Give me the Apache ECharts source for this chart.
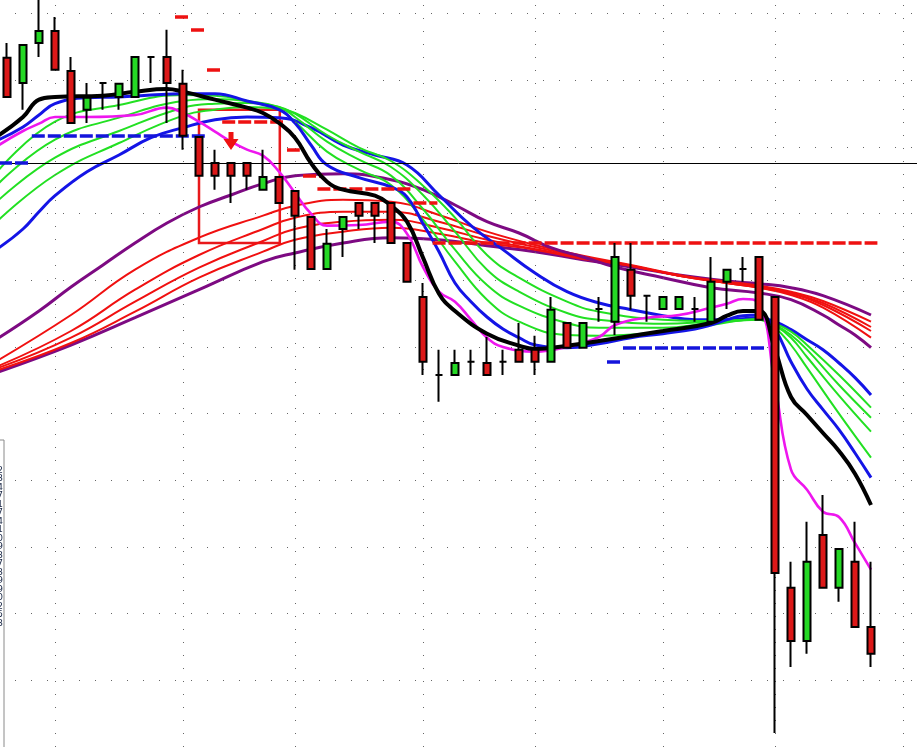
<!DOCTYPE html>
<html>
<head>
<meta charset="utf-8">
<script src="https://cdn.jsdelivr.net/npm/echarts@6/dist/echarts.min.js"></script>
<style>
  html, body { margin: 0; padding: 0; background: #fff; }
  #chart { width: 917px; height: 747px; }
</style>
</head>
<body>
<div id="chart"></div>
<script>
// candles, ECharts order: [open, close, low, high]
const candles = [
  [103.4, 97.5, 97.5, 105.6], [99.6, 105.3, 95.6, 105.3], [105.6, 107.4, 103.5, 112.8],
  [107.4, 101.6, 101.6, 109.5], [101.4, 93.6, 93.6, 103.5], [95.6, 97.4, 93.6, 99.6],
  [99.6, 99.6, 95.6, 99.6], [97.5, 99.5, 95.6, 99.5], [97.5, 103.5, 97.5, 103.5],
  [103.5, 103.5, 99.6, 103.5], [103.5, 99.6, 93.6, 107.6], [99.5, 91.7, 89.6, 101.6],
  [91.5, 85.7, 85.7, 91.5], [87.6, 85.7, 83.6, 89.6], [87.6, 85.7, 81.6, 87.6],
  [87.6, 85.7, 83.6, 87.6], [83.6, 85.5, 83.6, 89.6], [85.5, 81.6, 81.6, 85.5],
  [83.4, 79.7, 71.6, 83.4], [79.5, 71.7, 71.7, 79.5], [71.7, 75.5, 71.7, 77.7],
  [77.7, 79.5, 73.5, 79.5], [81.6, 79.7, 77.7, 81.6], [81.6, 79.7, 75.6, 81.6],
  [81.6, 75.6, 75.6, 81.6], [75.6, 69.8, 69.8, 75.6], [67.5, 57.8, 55.8, 69.6],
  [55.8, 55.8, 51.8, 59.6], [55.8, 57.6, 55.8, 59.6], [57.8, 57.8, 55.8, 59.6],
  [57.6, 55.8, 55.8, 61.5], [57.8, 57.8, 55.8, 59.6], [59.6, 57.8, 57.8, 63.6],
  [59.6, 57.8, 55.8, 61.7], [57.8, 65.6, 57.8, 67.5], [63.6, 59.9, 59.9, 63.6],
  [59.9, 63.6, 59.9, 63.6], [65.7, 65.7, 63.8, 67.5], [63.8, 73.5, 61.8, 75.6],
  [71.6, 67.7, 65.6, 75.6], [67.7, 67.7, 63.8, 67.7], [65.7, 67.5, 65.7, 67.5],
  [65.7, 67.5, 65.7, 67.5], [65.7, 65.7, 63.8, 67.5], [63.8, 69.8, 63.8, 73.5],
  [69.8, 71.6, 65.7, 71.6], [71.7, 71.7, 69.8, 73.5], [73.5, 64.1, 64.1, 73.5],
  [67.5, 26.1, 2.1, 67.5], [23.9, 15.9, 12.0, 27.8], [15.9, 27.8, 14.0, 33.8],
  [31.8, 23.9, 23.9, 37.8], [23.9, 29.7, 21.8, 29.7], [27.8, 18.0, 18.0, 33.8],
  [18.0, 14.0, 12.0, 27.8]
];
const slotCount = 58;
const priceTop = 112.05;

// moving averages: [bar index, price]
const blackMA = [[-0.5,91.8],[1,94.5],[2,97.1],[3,97.5],[6,97.7],[8,98.3],[10,98.7],[11,98.3],[13,97.1],[15,95.9],[16,95.1],[17,93.6],[18,91.4],[19,87.6],[20,84.8],[21,83.6],[23,82.7],[24,81.2],[25,78.8],[26,73.4],[27,68.0],[28,65.4],[30,62.0],[32,60.2],[33,59.7],[35,60.2],[37,60.9],[41,62.4],[44,63.6],[45,64.7],[46,65.4],[47,65.4],[48,59.6],[49,52.5],[50,49.8],[51,47.1],[52,44.4],[53,41.0],[54,36.3]];
const magentaMA = [[-0.5,90.3],[1,92.4],[2,93.5],[3,94.5],[5,94.5],[8,94.8],[10,95.9],[11,95.1],[12,93.8],[13,92.3],[14,90.8],[15,89.6],[16,88.7],[17,86.3],[18,83.1],[19,80.0],[20,78.2],[22,78.3],[24,78.8],[25,77.0],[26,72.0],[27,68.3],[28,66.8],[29,64.1],[30,61.4],[31,60.0],[33,59.3],[35,60.0],[37,61.5],[38,63.3],[40,64.4],[42,64.8],[44,65.9],[45,66.5],[46,67.2],[47,66.5],[48,54.3],[49,41.6],[50,38.6],[51,35.3],[52,34.5],[53,30.6],[54,26.6]];
const fastBlue = [[-0.5,91.1],[1,93.0],[2,94.8],[3,96.5],[5,97.4],[7,97.5],[9,97.8],[11,98.0],[13,98.0],[15,96.9],[17,95.6],[18,93.6],[19,90.3],[20,87.3],[22,85.4],[24,84.0],[25,82.5],[26,78.5],[27,74.3],[28,69.6],[29,66.8],[30,64.5],[31,62.7],[32,61.4],[33,60.3],[35,59.9],[37,60.5],[39,61.4],[41,62.0],[43,62.7],[44,63.3],[45,64.1],[46,64.7],[47,64.8],[48,62.6],[49,57.8],[50,53.7],[51,50.6],[52,47.6],[53,44.1],[54,40.4]];
const slowBlue = [[-0.5,74.9],[1,77.7],[2,80.3],[3,82.7],[5,86.3],[7,88.8],[9,91.4],[11,92.9],[13,94.1],[15,94.5],[17,94.4],[19,92.9],[21,90.3],[23,88.8],[25,87.3],[27,82.8],[29,78.2],[31,74.6],[33,71.1],[35,68.3],[37,66.6],[39,65.6],[41,64.7],[43,64.1],[45,64.1],[47,64.4],[48,63.8],[49,62.6],[50,61.1],[51,59.6],[52,57.6],[53,55.4],[54,52.8]];
const green1 = [[-0.5,86.6],[3,93.8],[7,96.3],[11,97.8],[13,97.7],[15,96.9],[17,95.6],[18,93.8],[20,89.3],[22,86.6],[24,84.3],[26,79.1],[28,72.8],[30,67.1],[32,63.8],[35,61.8],[37,61.7],[41,62.3],[44,63.3],[47,64.2],[48,62.9],[49,60.3],[50,56.9],[52,50.0],[54,43.4]];
const green2 = [[-0.5,84.6],[3,91.1],[7,94.4],[11,96.9],[13,97.2],[15,96.9],[17,96.0],[18,94.5],[20,90.8],[22,88.1],[24,85.7],[26,80.7],[28,74.6],[30,69.3],[32,66.2],[35,63.6],[37,62.9],[41,62.9],[44,63.6],[47,64.1],[48,63.2],[49,61.4],[50,58.5],[52,52.7],[54,47.3]];
const green3 = [[-0.5,82.1],[3,88.4],[7,92.4],[11,95.9],[13,96.5],[15,96.6],[17,96.0],[18,95.0],[20,91.8],[22,89.3],[24,87.0],[26,82.8],[28,77.3],[30,71.6],[32,68.3],[35,65.1],[37,64.1],[41,63.5],[44,63.8],[47,64.1],[48,63.3],[49,61.8],[50,59.6],[52,54.3],[54,49.4]];
const green4 = [[-0.5,79.1],[3,85.8],[7,90.6],[11,94.7],[13,95.6],[15,96.0],[17,95.7],[18,95.1],[20,92.6],[22,89.9],[24,87.9],[26,84.2],[28,79.4],[30,73.8],[32,70.4],[35,66.8],[37,65.3],[41,64.1],[44,63.9],[47,64.1],[48,63.5],[49,62.3],[50,60.3],[52,55.8],[54,50.9]];
const purpleFast = [[-0.5,61.4],[2,65.4],[4,69.0],[6,72.3],[8,75.6],[10,78.6],[12,81.0],[14,82.8],[16,84.5],[18,85.7],[21,86.0],[24,85.1],[26,83.6],[28,81.3],[30,78.8],[32,77.1],[34,74.9],[36,73.5],[38,72.0],[41,70.4],[44,68.9],[47,68.1],[49,67.1],[51,64.8],[52,63.3],[53,61.8],[54,59.9]];
const purpleSlow = [[-0.5,56.3],[4,60.3],[8,64.4],[12,68.6],[16,72.8],[18,74.1],[21,75.6],[24,76.4],[27,76.1],[30,75.2],[33,74.3],[36,73.1],[39,72.0],[42,70.8],[45,69.9],[47,69.5],[49,68.9],[51,67.7],[54,64.8]];
const red1 = [[-0.5,58.1],[4,64.8],[8,71.6],[12,76.4],[16,79.7],[18,81.2],[21,82.1],[24,81.8],[27,79.8],[30,77.3],[33,75.3],[36,73.7],[39,72.3],[42,70.8],[45,69.6],[47,68.9],[49,67.8],[51,65.9],[54,61.4]];
const red2 = [[-0.5,57.2],[4,62.4],[8,68.6],[12,73.8],[16,77.7],[18,79.4],[21,80.3],[24,80.3],[27,78.8],[30,76.7],[33,75.0],[36,73.5],[39,72.2],[42,70.7],[45,69.6],[47,68.9],[49,68.0],[51,66.3],[54,62.4]];
const red3 = [[-0.5,56.9],[4,61.4],[8,66.8],[12,71.9],[16,75.9],[18,77.7],[21,78.8],[24,79.1],[27,77.9],[30,76.1],[33,74.7],[36,73.4],[39,72.2],[42,70.7],[45,69.6],[47,69.0],[49,68.1],[51,66.6],[54,63.0]];
const red4 = [[-0.5,56.6],[4,60.6],[8,65.3],[12,70.4],[16,74.3],[18,76.1],[21,77.3],[24,77.9],[27,77.0],[30,75.6],[33,74.6],[36,73.2],[39,72.2],[42,70.7],[45,69.8],[47,69.2],[49,68.3],[51,66.9],[54,63.8]];

// stepped levels: [from bar, to bar, price]
const redLevels = [[10.5,11.45,109.5],[11.5,12.45,107.6],[12.5,13.45,101.6],[13.45,17.25,93.8],[17.5,18.3,89.6],[18.5,19.75,85.7],[19.4,25.4,83.7],[25.4,26.9,81.6],[26.6,54.4,75.6]];
const blueLevels = [[-0.5,1.45,87.6],[1.55,12.4,91.7],[37.5,38.45,57.8],[38.5,47.5,59.9]];
const hLine = 87.6;
const dayBreaks = [3, 11, 18, 26, 33, 41, 48, 56];
const signalBox = [12, 17.05, 95.6, 75.6];
const signalArrow = [14, 90.9];
const panelDigits = ['1.3042','1.3043','1.3044','1.3047','1.3041','1.3047','1.3044','1.3041','1.3040','1.3039','1.3043','1.3037','1.3033','1.3039','1.3039','1.3040','1.3042','1.3045','1.3043'];

const cats = Array.from({ length: slotCount }, (_, i) => String(i));
const chart = echarts.init(document.getElementById('chart'));

const ma = (name, data, color, width, z) => ({
  name, type: 'line', xAxisIndex: 1, data, symbol: 'none',
  smooth: 0.45, z, silent: true,
  lineStyle: { color, width }
});
const segs = (list) => list.map(([a, b, v]) => [{ coord: [a, v] }, { coord: [b, v] }]);

const option = {
  animation: false,
  backgroundColor: '#ffffff',
  grid: { left: -1, top: 0, width: slotCount * 16, height: 747, outerBoundsMode: 'none', containLabel: false },
  xAxis: [
    { type: 'category', data: cats, boundaryGap: true, show: false },
    { type: 'value', min: -0.5, max: slotCount - 0.5, show: false }
  ],
  yAxis: {
    type: 'value', min: 0, max: priceTop, interval: 10,
    axisLine: { show: false }, axisTick: { show: false }, axisLabel: { show: false },
    splitLine: { show: true, showMaxLine: false, lineStyle: { color: '#666', width: 1, type: [1, 15] } }
  },
  series: [
    {
      type: 'line', xAxisIndex: 1, data: [], z: 1, silent: true,
      markLine: {
        silent: true, symbol: ['none', 'none'], label: { show: false },
        lineStyle: { color: '#666', width: 1, type: [1, 12] },
        data: dayBreaks.map(d => ({ xAxis: d }))
      }
    },
    {
      type: 'line', xAxisIndex: 1, data: [], z: 2, silent: true,
      markLine: {
        silent: true, symbol: ['none', 'none'], label: { show: false },
        lineStyle: { color: '#000', width: 1, type: 'solid' },
        data: [{ yAxis: hLine }]
      }
    },
    ma('p2', purpleSlow, '#7d0a82', 3, 3),
    ma('r4', red4, '#f01010', 2, 3),
    ma('r3', red3, '#f01010', 2, 3),
    ma('r2', red2, '#f01010', 2, 3),
    ma('r1', red1, '#f01010', 2, 3),
    ma('p1', purpleFast, '#7d0a82', 3, 3),
    ma('sb', slowBlue, '#1414e6', 3, 4),
    ma('g4', green4, '#22e022', 2, 4),
    ma('g3', green3, '#22e022', 2, 4),
    ma('g2', green2, '#22e022', 2, 4),
    ma('g1', green1, '#22e022', 2, 4),
    ma('fb', fastBlue, '#1414e6', 3, 4),
    ma('mg', magentaMA, '#ee16ee', 2.6, 5),
    ma('bk', blackMA, '#000000', 4, 5),
    {
      type: 'candlestick', xAxisIndex: 0, data: candles, barWidth: 8, z: 6,
      itemStyle: {
        color: '#25d925', color0: '#dc1818',
        borderColor: '#000', borderColor0: '#000', borderColorDoji: '#000',
        borderWidth: 2
      }
    },
    {
      type: 'line', xAxisIndex: 1, data: [], z: 7, silent: true,
      markLine: {
        silent: true, symbol: ['none', 'none'], label: { show: false },
        lineStyle: { color: '#ee1111', width: 3.5, type: [13, 3] },
        data: segs(redLevels)
      },
      markArea: {
        silent: true,
        itemStyle: { color: 'rgba(0,0,0,0)', borderColor: '#e8181b', borderWidth: 2.5, opacity: 1 },
        data: [[{ coord: [signalBox[0], signalBox[2]] }, { coord: [signalBox[1], signalBox[3]] }]]
      }
    },
    {
      type: 'line', xAxisIndex: 1, data: [], z: 7, silent: true,
      markLine: {
        silent: true, symbol: ['none', 'none'], label: { show: false },
        lineStyle: { color: '#1414dc', width: 3.5, type: [13, 3] },
        data: segs(blueLevels)
      }
    },
    {
      type: 'scatter', xAxisIndex: 1, data: [signalArrow], z: 8, silent: true,
      symbol: 'path://M5,0 L10,0 L10,7 L15,7 L7.5,18 L0,7 L5,7 Z',
      symbolSize: [15, 18],
      itemStyle: { color: '#ee1111', opacity: 1 }
    }
  ],
  graphic: [
    {
      type: 'rect', z: 100,
      shape: { x: -60, y: 440, width: 64, height: 330 },
      style: { fill: '#ffffff', stroke: '#8a8a8a', lineWidth: 1 }
    },
    {
      type: 'text', z: 101, x: 3, y: 466,
      style: {
        text: panelDigits.join('\n'), align: 'right', verticalAlign: 'top',
        font: '9px "DejaVu Sans"', lineHeight: 8.5, fill: '#1c2a48'
      }
    }
  ]
};

chart.setOption(option);
</script>
</body>
</html>
